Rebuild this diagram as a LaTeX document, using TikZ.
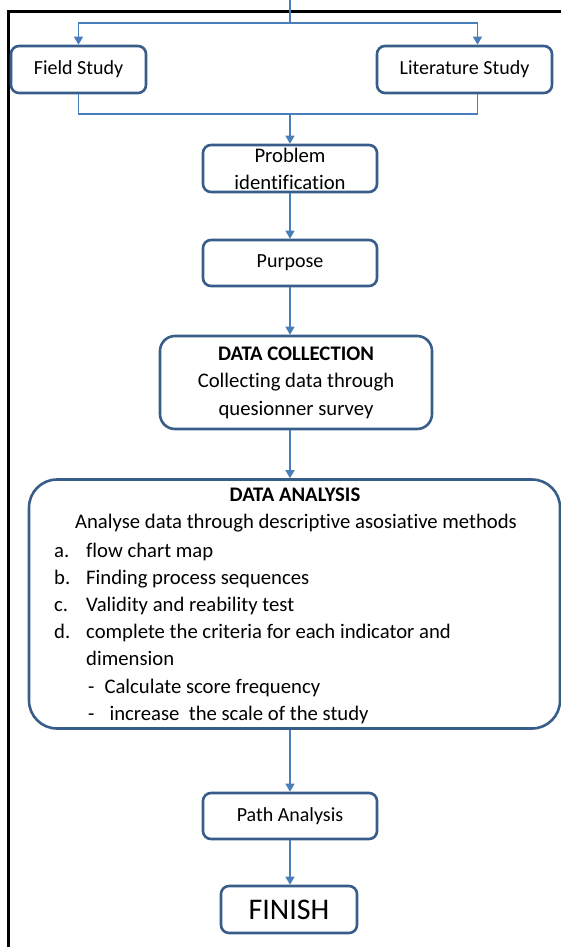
\documentclass[tikz,border=0pt]{standalone}
\usepackage{fontspec}
\setmainfont{Carlito}[Ligatures=NoCommon]
\usetikzlibrary{arrows.meta,positioning}
\definecolor{boxblue}{RGB}{56,93,138}
\definecolor{flowblue}{RGB}{74,126,187}

\begin{document}
\begin{tikzpicture}[x=1pt, y=-1pt,
    stepbox/.style={draw=boxblue, line width=2.6pt, rounded corners=8pt, fill=white,
                    inner sep=0pt, align=center, font=\fontsize{20}{27.2}\selectfont},
    txt/.style={inner sep=0pt, font=\fontsize{20.7}{27.2}\selectfont},
    flow/.style={draw=flowblue, line width=1.4pt},
    arr/.style={flow, -{Triangle[length=8pt,width=9pt]}}]
    \useasboundingbox (0,0) rectangle (561,947);
    \draw[line width=3pt] (8,947) -- (8,12) -- (561,12);

    \node[stepbox, minimum width=135, minimum height=47] (field) at (78.5,69.5) {Field Study};
    \node[stepbox, minimum width=175, minimum height=47] (lit) at (464.5,69.5) {Literature Study};
    \node[stepbox, minimum width=174, minimum height=47] (prob) at (290,168.5) {};
    \node[txt, align=center] (probtext) at (prob) {Problem\\identification};
    \node[stepbox, minimum width=174, minimum height=46] (purp) at (290,263) {Purpose};
    \node[stepbox, minimum width=272, minimum height=93, rounded corners=15pt,
          font=\fontsize{20.7}{27.5}\selectfont] (coll) at (296,382.5)
        {\textbf{DATA COLLECTION}\\Collecting data through\\quesionner survey};
    \node[stepbox, minimum width=531, minimum height=249, rounded corners=28pt] (anal) at (294.5,604) {};
    \node[txt, font=\fontsize{20.7}{27.2}\selectfont\bfseries] (antitle) at (295,495) {DATA ANALYSIS};
    \node[txt] (ansub) at (296,523) {Analyse data through descriptive asosiative methods};
    \node[txt, anchor=base west] (anlist) at (54,557) {%
        \begin{tabular}[t]{@{}p{32pt}@{}l@{}}
        a. & flow chart map\\
        b. & Finding process sequences\\
        c. & Validity and reability test\\
        d. & complete the criteria for each indicator and\\
           & dimension\\
           & \hspace*{2pt}-\hspace{10pt}Calculate score frequency\\
           & \hspace*{2pt}-\hspace{15pt}increase\ \ the scale of the study
        \end{tabular}};
    \node[stepbox, minimum width=174, minimum height=46] (path) at (290,816) {Path Analysis};
    \node[stepbox, minimum width=136, minimum height=47, font=\fontsize{30}{36}\selectfont] (fin) at (289,909.5) {FINISH};

    \coordinate (top) at (290,0);
    \coordinate (split) at (290,23);
    \coordinate (join) at (290,114);
    \draw[flow] (top) -- (split);
    \draw[arr] (split) -| (field);
    \draw[arr] (split) -| ([xshift=13pt]lit.north);
    \draw[flow] (field) |- (join);
    \draw[flow] ([xshift=13pt]lit.south) |- (join);
    \draw[arr] (join) -- (prob);
    \draw[arr] (prob) -- (purp);
    \draw[arr] (purp.south) -- (purp.south |- coll.north);
    \draw[arr] (coll.south -| purp.south) -- (purp.south |- anal.north);
    \draw[arr] (anal.south -| path.north) -- (path);
    \draw[arr] (path.south) -- (path.south |- fin.north);
\end{tikzpicture}
\end{document}
